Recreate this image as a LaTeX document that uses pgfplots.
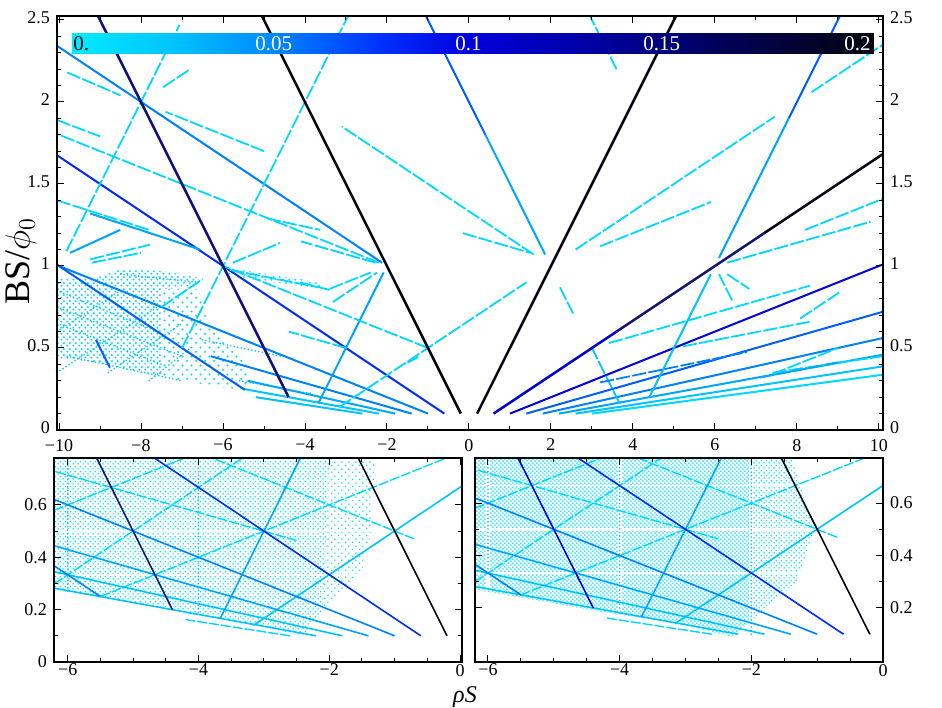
\documentclass[border=0pt]{standalone}
\usepackage{fontspec}
\setmainfont{Liberation Serif}
\usepackage{pgfplots}
\pgfplotsset{compat=1.18}
\usetikzlibrary{patterns}

\definecolor{k1}{RGB}{5,5,20}
\definecolor{nv}{RGB}{20,20,115}
\definecolor{b0}{RGB}{0,0,215}
\definecolor{b1}{RGB}{0,45,235}
\definecolor{b2}{RGB}{0,95,250}
\definecolor{b3}{RGB}{0,130,255}
\definecolor{b4}{RGB}{0,165,255}
\definecolor{c1}{RGB}{0,195,255}
\definecolor{c2}{RGB}{0,215,255}
\definecolor{c3}{RGB}{0,228,250}

\pgfdeclarepatternformonly{cloudT}{\pgfqpoint{0pt}{0pt}}{\pgfqpoint{3pt}{3pt}}{\pgfqpoint{3pt}{3pt}}{%
 \pgfpathcircle{\pgfqpoint{0.75pt}{0.75pt}}{0.6pt}\pgfpathcircle{\pgfqpoint{2.25pt}{2.25pt}}{0.6pt}\pgfusepath{fill}}
\pgfdeclarepatternformonly{cloudTs}{\pgfqpoint{0pt}{0pt}}{\pgfqpoint{4.4pt}{4.4pt}}{\pgfqpoint{4.4pt}{4.4pt}}{%
 \pgfpathcircle{\pgfqpoint{1.1pt}{1.1pt}}{0.6pt}\pgfpathcircle{\pgfqpoint{3.3pt}{3.3pt}}{0.6pt}\pgfusepath{fill}}
\pgfdeclarepatternformonly{cloudB}{\pgfqpoint{0pt}{0pt}}{\pgfqpoint{2.6pt}{2.6pt}}{\pgfqpoint{2.6pt}{2.6pt}}{%
 \pgfpathcircle{\pgfqpoint{0.65pt}{0.65pt}}{0.48pt}\pgfpathcircle{\pgfqpoint{1.95pt}{1.95pt}}{0.48pt}\pgfusepath{fill}}
\pgfdeclarepatternformonly{cloudBd}{\pgfqpoint{0pt}{0pt}}{\pgfqpoint{2.2pt}{2.2pt}}{\pgfqpoint{2.2pt}{2.2pt}}{%
 \pgfpathcircle{\pgfqpoint{0.55pt}{0.55pt}}{0.5pt}\pgfpathcircle{\pgfqpoint{1.65pt}{1.65pt}}{0.5pt}\pgfusepath{fill}}
\pgfdeclarepatternformonly{cloudBs}{\pgfqpoint{0pt}{0pt}}{\pgfqpoint{3.6pt}{3.6pt}}{\pgfqpoint{3.6pt}{3.6pt}}{%
 \pgfpathcircle{\pgfqpoint{0.9pt}{0.9pt}}{0.45pt}\pgfpathcircle{\pgfqpoint{2.7pt}{2.7pt}}{0.45pt}\pgfusepath{fill}}

\tikzset{
 L/.style={line width=1.25pt},
 M/.style={line width=1pt},
 S/.style={line width=0.9pt, dash pattern=on 7pt off 1.2pt},
 T/.style={line width=0.8pt},
 TS/.style={line width=0.7pt, dash pattern=on 5pt off 1pt},
 D/.style={line width=0.9pt, line cap=round, dash pattern=on 0pt off 1.8pt},
}
\pgfplotsset{
 base/.style={scale only axis, anchor=south west, tick align=inside,
  major tick length=3.5pt, minor tick length=2pt,
  every tick/.style={black, line width=0.5pt},
  axis line style={line width=0.6pt},
  ticklabel style={font=\fontsize{9}{10}\selectfont},
  clip=true, axis on top},
 topax/.style={base, at={(28.5pt,138.5pt)}, width=413pt, height=207pt,
  xmin=-10.05, xmax=10.1, ymin=0, ymax=2.524,
  xtick={-10,-8,-6,-4,-2,0,2,4,6,8,10},
  xticklabels={−10,−8,−6,−4,−2,0,2,4,6,8,10},
  xticklabel style={yshift=-1pt},
  ytick={0,0.5,1,1.5,2,2.5}, yticklabels={0,0.5,1,1.5,2,2.5},
  yticklabel style={yshift=1pt},
  minor x tick num=1, minor y tick num=4},
}

\begin{document}
\begin{tikzpicture}
%================ TOP PANEL =================
\begin{axis}[topax]
% clouds
\addplot[draw=none, pattern=cloudT, pattern color=c2] coordinates {(-10.05,0.44) (-9,0.41) (-8,0.35) (-7.5,0.33) (-7.5,0.97) (-8.5,0.98) (-9.2,0.92) (-10.05,0.92)} --cycle;
\addplot[draw=none, pattern=cloudTs, pattern color=c2] coordinates {(-7.5,0.33) (-7,0.3) (-6,0.26) (-5.4,0.24) (-5.4,0.42) (-6.3,0.62) (-6.6,0.86) (-7.5,0.86)} --cycle;
\addplot[draw=none, pattern=cloudT, pattern color=c2] coordinates {(-7.5,0.86) (-6.6,0.87) (-6.6,0.93) (-7.5,0.97)} --cycle;
\addplot[draw=none, pattern=cloudT, pattern color=c2] coordinates {(-5.9,0.99) (-3.6,0.9) (-3.6,0.86) (-5.9,0.94)} --cycle;
% cloud texture lines
\addplot[D,c1] coordinates {(-10.05,0.85) (-7.6,0.6)};
\addplot[D,c1] coordinates {(-10.05,0.75) (-7.0,0.45)};
\addplot[D,c1] coordinates {(-10.05,0.65) (-7.5,0.4)};
\addplot[D,c1] coordinates {(-9.8,0.45) (-7.0,0.3)};
\addplot[D,c1] coordinates {(-8.5,0.95) (-6.6,0.9)};
\addplot[D,c1] coordinates {(-10.05,0.35) (-7.6,0.75)};
\addplot[D,c1] coordinates {(-8.8,0.35) (-7.0,0.65)};
\addplot[D,c1] coordinates {(-10.05,0.6) (-8.5,0.85)};
\addplot[D,c1] coordinates {(-7.8,0.3) (-6.8,0.5)};
\addplot[D,c1] coordinates {(-6.5,0.55) (-4.6,0.45)};
\addplot[D,c1] coordinates {(-5.6,0.3) (-3.8,0.22)};
% fans through the origin
\addplot[M,b1] coordinates {(-0.6,0.1) (-10.05,1.675)};
\addplot[M,b0] coordinates {(1,0.1) (10.1,1.01)};
\addplot[M,b3] coordinates {(-1,0.1) (-10.05,1.005)};
\addplot[M,b2] coordinates {(1.4,0.1) (10.1,0.721)};
\addplot[M,b3] coordinates {(-1.4,0.1) (-6.3,0.45)};
\addplot[M,b3] coordinates {(1.8,0.1) (10.1,0.561)};
\addplot[M,b4] coordinates {(-1.8,0.1) (-5.4,0.3)};
\addplot[M,b4] coordinates {(2.2,0.1) (10.1,0.459)};
\addplot[M,c1] coordinates {(-2.2,0.1) (-5.5,0.25)};
\addplot[M,c1] coordinates {(2.6,0.1) (10.1,0.388)};
\addplot[M,c1] coordinates {(-2.6,0.1) (-5.2,0.2)};
\addplot[M,c2] coordinates {(3.0,0.1) (10.1,0.337)};
% medium lines
\addplot[M,b3] coordinates {(-2.12,1.02) (-10.05,2.342)};
\addplot[M,b4] coordinates {(1.86,1.07) (0.4,1.8)};
\addplot[M,b2] coordinates {(0.4,1.8) (-1.05,2.524)};
\addplot[M,c1] coordinates {(4.4,0.2) (5.9,0.95)};
\addplot[M,b4] coordinates {(6.1,1.05) (7.8,1.9)};
\addplot[M,b2] coordinates {(7.8,1.9) (9.05,2.524)};
\addplot[M,b2] coordinates {(-5.47,0.245) (-10.05,1.008)};
\addplot[M,b4] coordinates {(-3.67,0.165) (-2.08,0.96)};
\addplot[M,b2] coordinates {(-9.1,0.55) (-8.76,0.38)};
\addplot[M,b4] coordinates {(-9.24,1.32) (-6.56,1.1)};
\addplot[M,b4] coordinates {(-9.73,1.08) (-8.51,1.22)};
% cyan segments
\addplot[S,c2] coordinates {(-9.82,1.09) (-7.06,2.47)};
\addplot[S,c2] coordinates {(-7.0,0.5) (-2.95,2.524)};
\addplot[S,c2] coordinates {(-2.2,1.02) (-10.05,1.805)};
\addplot[S,c2] coordinates {(-5.0,1.7) (-7.4,1.94)};
\addplot[S,c2] coordinates {(1.58,1.07) (-3.1,1.85)};
\addplot[S,c2] coordinates {(-3.16,0.14) (1.4,0.9)};
\addplot[S,c2] coordinates {(2.6,1.1) (7.46,1.91)};
\addplot[S,c2] coordinates {(8.36,2.06) (10.1,2.35)};
\addplot[S,c2] coordinates {(3.6,2.2) (2.95,2.524)};
\addplot[S,c2] coordinates {(6.42,0.79) (6.1,0.95)};
\addplot[S,c2] coordinates {(3.2,1.12) (5.9,1.39)};
\addplot[S,c2] coordinates {(8.2,1.22) (10.1,1.41)};
\addplot[S,c2] coordinates {(-7.46,2.09) (-6.8,2.2)};
\addplot[S,c1] coordinates {(3.67,0.165) (3.0,0.5)};
\addplot[S,c2] coordinates {(-1.0,0.5) (-6.0,1.0)};
\addplot[S,c2] coordinates {(-3.32,0.78) (-2.24,0.96)};
\addplot[S,c2] coordinates {(-3.4,0.86) (-2.4,0.96)};
\addplot[S,c2] coordinates {(-2.28,1.02) (-4.1,1.15)};
\addplot[S,c2] coordinates {(-3.0,0.5) (-4.4,0.6)};
\addplot[S,c2] coordinates {(6.3,1.02) (9.8,1.27)};
\addplot[S,c2] coordinates {(3.42,0.53) (8.32,0.88)};
\addplot[S,c2] coordinates {(8.08,0.68) (9.04,0.84)};
\addplot[S,c2] coordinates {(7.4,0.34) (9.0,0.5)};
\addplot[S,c2] coordinates {(7.41,0.35) (10.1,0.45)};
\addplot[S,c2] coordinates {(6.3,0.95) (6.84,0.86)};
\addplot[S,c2] coordinates {(-0.15,1.2) (1.49,1.08)};
\addplot[S,c2] coordinates {(-10.05,1.89) (-9.0,1.79)};
\addplot[S,c2] coordinates {(-9.8,2.18) (-8.5,2.04)};
\addplot[S,c2] coordinates {(-10.05,1.4) (-7.8,1.22)};
\addplot[S,c2] coordinates {(-4.93,1.29) (-3.63,1.22)};
\addplot[S,c2] coordinates {(-5.76,1.02) (-4.61,1.14)};
\addplot[S,c2] coordinates {(-5.83,0.976) (-3.71,0.872)};
\addplot[S,c2] coordinates {(-9.24,1.04) (-7.78,1.13)};
\addplot[S,c2] coordinates {(-9.2,1.02) (-8.0,1.08)};
\addplot[S,c2] coordinates {(-7.5,0.75) (-6.5,0.92)};
\addplot[S,c2] coordinates {(-4.12,0.9) (-3.34,0.85)};
\addplot[S,c2] coordinates {(-1.5,0.41) (-1.24,0.445)};
\addplot[S,c2] coordinates {(5.22,0.51) (8.32,0.66)};
\addplot[S,b3] coordinates {(3.2,0.29) (6.78,0.475)};
\addplot[S,b4] coordinates {(7.1,0.32) (9.05,0.415)};
\addplot[S,c2] coordinates {(2.22,0.87) (2.54,0.71)};
% main dark lines
\addplot[L,k1] coordinates {(-0.2,0.1) (-5.05,2.524)};
\addplot[L,k1] coordinates {(0.2,0.1) (5.05,2.524)};
\addplot[L,nv] coordinates {(-4.4,0.2) (-9.05,2.524)};
\addplot[L,b0] coordinates {(0.6,0.1) (3.6,0.6)};
\addplot[L,nv] coordinates {(3.6,0.6) (7.2,1.2)};
\addplot[L,k1] coordinates {(7.2,1.2) (10.1,1.683)};
% colour bar
\shade[left color={rgb,255:red,0;green,235;blue,255}, right color={rgb,255:red,0;green,195;blue,255}] (axis cs:-9.69,2.293) rectangle (axis cs:-7.2,2.419);
\shade[left color={rgb,255:red,0;green,195;blue,255}, right color={rgb,255:red,0;green,135;blue,255}] (axis cs:-7.21,2.293) rectangle (axis cs:-4.76,2.419);
\shade[left color={rgb,255:red,0;green,135;blue,255}, right color={rgb,255:red,0;green,50;blue,255}] (axis cs:-4.77,2.293) rectangle (axis cs:-2.2,2.419);
\shade[left color={rgb,255:red,0;green,50;blue,255}, right color={rgb,255:red,0;green,0;blue,220}] (axis cs:-2.21,2.293) rectangle (axis cs:0,2.419);
\shade[left color={rgb,255:red,0;green,0;blue,220}, right color={rgb,255:red,0;green,0;blue,160}] (axis cs:-0.01,2.293) rectangle (axis cs:3.2,2.419);
\shade[left color={rgb,255:red,0;green,0;blue,160}, right color={rgb,255:red,0;green,0;blue,90}] (axis cs:3.19,2.293) rectangle (axis cs:6.1,2.419);
\shade[left color={rgb,255:red,0;green,0;blue,90}, right color={rgb,255:red,5;green,5;blue,15}] (axis cs:6.09,2.293) rectangle (axis cs:9.88,2.419);
\node[anchor=west, inner sep=0pt, font=\fontsize{10.5}{11}\selectfont] at (axis cs:-9.66,2.356) {0.};
\node[text=white, inner sep=0pt, font=\fontsize{10.5}{11}\selectfont] at (axis cs:-4.76,2.356) {0.05};
\node[text=white, inner sep=0pt, font=\fontsize{10.5}{11}\selectfont] at (axis cs:-0.01,2.356) {0.1};
\node[text=white, inner sep=0pt, font=\fontsize{10.5}{11}\selectfont] at (axis cs:4.7,2.356) {0.15};
\node[text=white, inner sep=0pt, font=\fontsize{10.5}{11}\selectfont] at (axis cs:9.48,2.356) {0.2};
\end{axis}
\begin{axis}[topax, hide x axis, yticklabel pos=right]
\end{axis}

%================ BOTTOM LEFT =================
\begin{axis}[base, at={(27pt,22.5pt)}, width=204pt, height=102pt,
  xmin=-6.21, xmax=0.03, ymin=0, ymax=0.779,
  xtick={-6,-4,-2,0}, xticklabels={−6,−4,−2,0},
  xticklabel style={yshift=2.5pt},
  ytick={0,0.2,0.4,0.6}, yticklabels={0,0.2,0.4,0.6},
  minor x tick num=3, minor y tick num=1]
\addplot[draw=none, pattern=cloudB, pattern color=c3] coordinates {(-6.21,0.275) (-5.5,0.25) (-4,0.187) (-3,0.134) (-2.4,0.1) (-2.1,0.2) (-2.0,0.78) (-6.21,0.78)} --cycle;
\addplot[draw=none, pattern=cloudBs, pattern color=c3] coordinates {(-2.1,0.2) (-1.5,0.35) (-1.35,0.5) (-1.3,0.78) (-2.0,0.78)} --cycle;
\addplot[line width=1pt, white] coordinates {(-6.21,0.5) (0,0.5)};
\addplot[line width=0.6pt, white] coordinates {(-6.21,0.667) (0,0.667)};
\addplot[line width=0.6pt, white] coordinates {(-6.21,0.333) (0,0.333)};
\addplot[D,c1] coordinates {(-6,0.27) (-6,0.78)};
\addplot[D,c1] coordinates {(-4,0.19) (-4,0.78)};
\addplot[TS,c2] coordinates {(-5.5,0.25) (-0.2,0.78)};
\addplot[TS,c2] coordinates {(-6.21,0.298) (-3.32,0.78)};
\addplot[TS,c2] coordinates {(-0.7,0.47) (-3.8,0.78)};
\addplot[TS,c2] coordinates {(-6.21,0.579) (-4.2,0.78)};
\addplot[TS,c2] coordinates {(-2.5,0.464) (-6.21,0.729)};
\addplot[TS,c2] coordinates {(-2.6,0.1) (-4.2,0.162)};
\addplot[T,c1] coordinates {(-3.16,0.14) (0.03,0.672)};
\addplot[T,c1] coordinates {(-1.8,0.1) (-6.21,0.345)};
\addplot[T,c1] coordinates {(-2.2,0.1) (-6.21,0.282)};
\addplot[T,b4] coordinates {(-1.4,0.1) (-6.21,0.444)};
\addplot[T,b3] coordinates {(-1.0,0.1) (-6.21,0.621)};
\addplot[T,b3] coordinates {(-5.5,0.25) (-6.21,0.368)};
\addplot[T,b4] coordinates {(-3.67,0.165) (-2.44,0.78)};
\addplot[T,b1] coordinates {(-0.6,0.1) (-4.68,0.78)};
\addplot[T,nv] coordinates {(-4.4,0.2) (-5.56,0.78)};
\addplot[T,k1] coordinates {(-0.2,0.1) (-1.56,0.78)};
\end{axis}

%================ BOTTOM RIGHT =================
\begin{axis}[base, at={(237.5pt,22.5pt)}, width=204pt, height=102pt,
  xmin=-6.197, xmax=0, ymin=-0.006, ymax=0.772,
  xtick={-6,-4,-2,0}, xticklabels={−6,−4,−2,0},
  xticklabel style={yshift=2.5pt},
  ytick={0.2,0.4,0.6}, yticklabels={0.2,0.4,0.6}, yticklabel pos=right,
  minor x tick num=3, minor y tick num=1]
\addplot[draw=none, pattern=cloudBd, pattern color=c3] coordinates {(-6.2,0.27) (-5.5,0.24) (-4.4,0.19) (-3.1,0.14) (-2.3,0.09) (-2.0,0.15) (-2.0,0.78) (-6.2,0.78)} --cycle;
\addplot[draw=none, pattern=cloudB, pattern color=c3] coordinates {(-2.0,0.15) (-1.8,0.2) (-1.3,0.3) (-1.05,0.5) (-1.4,0.78) (-2.0,0.78)} --cycle;
\addplot[line width=1.2pt, white] coordinates {(-6.2,0.5) (0,0.5)};
\addplot[line width=0.8pt, white] coordinates {(-6.2,0.667) (0,0.667)};
\addplot[line width=0.8pt, white] coordinates {(-6.2,0.333) (0,0.333)};
\addplot[line width=2pt, white] coordinates {(-6,0.27) (-6,0.78)};
\addplot[line width=2pt, white] coordinates {(-4,0.19) (-4,0.78)};
\addplot[line width=2pt, white] coordinates {(-2,0.08) (-2,0.78)};
\addplot[D,c1] coordinates {(-6,0.35) (-6,0.78)};
\addplot[D,c1] coordinates {(-4,0.2) (-4,0.78)};
\addplot[D,c1] coordinates {(-2,0.1) (-2,0.78)};
\addplot[TS,c2] coordinates {(-5.5,0.25) (-0.2,0.78)};
\addplot[TS,c2] coordinates {(-6.2,0.3) (-3.32,0.78)};
\addplot[TS,c2] coordinates {(-0.7,0.47) (-3.8,0.78)};
\addplot[TS,c2] coordinates {(-6.2,0.58) (-4.2,0.78)};
\addplot[TS,c2] coordinates {(-2.5,0.464) (-6.2,0.729)};
\addplot[TS,c2] coordinates {(-2.6,0.1) (-4.2,0.162)};
\addplot[T,c1] coordinates {(-3.16,0.14) (0,0.667)};
\addplot[T,c1] coordinates {(-1.8,0.1) (-6.2,0.344)};
\addplot[T,c1] coordinates {(-2.2,0.1) (-6.2,0.282)};
\addplot[T,b4] coordinates {(-1.4,0.1) (-6.2,0.443)};
\addplot[T,b3] coordinates {(-1.0,0.1) (-6.2,0.62)};
\addplot[T,b3] coordinates {(-5.5,0.25) (-6.2,0.367)};
\addplot[T,b4] coordinates {(-3.67,0.165) (-2.44,0.78)};
\addplot[T,b1] coordinates {(-0.6,0.1) (-4.68,0.78)};
\addplot[T,b0] coordinates {(-4.4,0.2) (-5.56,0.78)};
\addplot[T,k1] coordinates {(-0.2,0.1) (-1.56,0.78)};
\end{axis}

\node[anchor=base, inner sep=0pt, font=\fontsize{12}{14}\selectfont\itshape] at (232.5pt,2.5pt) {ρS};
\node[rotate=90, font=\fontsize{18}{20}\selectfont] at (10.5pt,223pt) {BS/$\phi_0$};
\pgfresetboundingbox
\path[use as bounding box] (0,0) rectangle (471pt,353.5pt);
\end{tikzpicture}
\end{document}
